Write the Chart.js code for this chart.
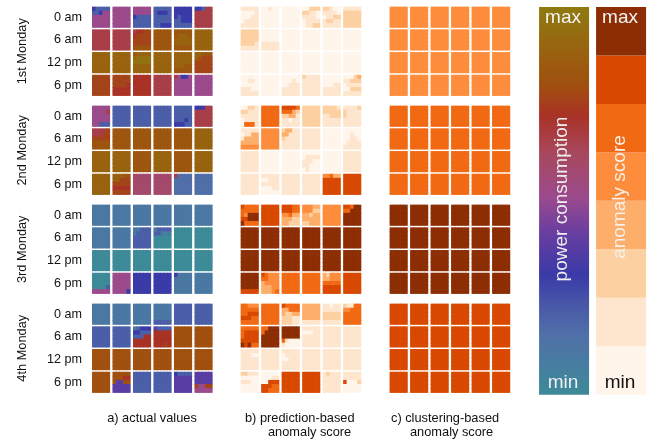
<!DOCTYPE html>
<html>
<head>
<meta charset="utf-8">
<style>
  html, body { margin: 0; padding: 0; background: #fff; }
  #wrap { width: 657px; height: 441px; position: relative; }
  canvas { filter: blur(0.45px); }
</style>
<script src="https://cdn.jsdelivr.net/npm/chart.js@4/dist/chart.umd.min.js"></script>
</head>
<body>
<div id="wrap"><canvas id="chart"></canvas></div>
<script>
// labels
const rowLabels  = ['0 am', '6 am', '12 pm', '6 pm'];
const weekLabels = ['1st Monday', '2nd Monday', '3rd Monday', '4th Monday'];

// a) actual values: one string per cell, a single letter when the cell is flat,
// otherwise five rows of five sub-samples. Letters are read through actualLevels.
const actualLevels = { a: 0, b: .11, m: .16, c: .21, d: .31, e: .38, f: .51, r: .59, g: .66, h: .72, i: .77, o: .8, j: .83, k: .89, l: .96 };
const actualWeek1 = [
  'dcccc/ccdff/fffff/fffff/fffff', 'f', 'fffff/fffff/dcccc/ccccc/ccccc', 'ccccc/cdddc/ccccc/ccccc/ccddd', 'ddddd/ddddd/dcddd/ccddd/ccccc', 'ddcgg/ggggg/ggggg/ggggg/ggggg',
  'g', 'g', 'ghhii/hiiii/iiiii/iiiii/jjjjj', 'j', 'jjjjj/jkkkj/kkkkk/kkkkk/jjjjj', 'k',
  'k', 'k', 'jkkkk/kllll/lllll/kkkkk/kkkkk', 'k', 'kkkkk/kkkkk/kkkkk/kkkjj/jjjjj', 'kkjjj/kjiii/iiiii/iiiii/iiiii',
  'i', 'iiiii/iiiii/iiiih/hhhhh/hhhhh', 'h', 'g', 'gfddf/fffff/fffff/fffff/fffff', 'f'
];
const actualWeek2 = [
  'fffff/ffffg/fffff/fffff/ffccc', 'c', 'c', 'c', 'ccccc/ccccc/ccccc/cccdc/dddcc', 'dddgg/ggggg/ggggg/ggggg/ggggg',
  'ggggi/gggii/iiiii/jjjjj/jjjjj', 'j', 'j', 'j', 'j', 'k',
  'k', 'k', 'j', 'k', 'j', 'k',
  'k', 'kkkjj/kkiii/iiiii/hhhhh/iiiii', 'r', 'r', 'gmmmm/mmmmm/mmmmm/mmmmm/mmmmm', 'm'
];
const actualWeek3 = [
  'b', 'b', 'b', 'b', 'b', 'b',
  'b', 'b', 'bbccc/bcccc/ccccc/ccccc/ccccc', 'bcccc/ccbab/aaaaa/aaaaa/aaaaa', 'a', 'a',
  'a', 'a', 'a', 'a', 'a', 'a',
  'aaaaa/aaaaa/aaaaa/aaaac/fffff', 'fffff/fffff/fffff/fffff/ffffd', 'd', 'd', 'dbbbb/bbbbb/bbbbb/bbbbb/bbbbb', 'b'
];
const actualWeek4 = [
  'b', 'b', 'b', 'bbbbb/bbbbb/bbbbb/bbbbb/ccccc', 'c', 'c',
  'c', 'c', 'bcddd/ddccc/ccchh/hhhhh/hhhhh', 'ecccc/hhhhh/hhhhh/hhhhh/hhhih', 'o', 'o',
  'o', 'o', 'o', 'o', 'o', 'o',
  'o', 'ooooo/ooohh/oeeoo/eeeee/eeeee', 'c', 'c', 'dcccc/eeeee/eeeee/eeeee/eeeee', 'eeeee/eeeee/eeeee/iffii/fffff'
];

// b) prediction-based anomaly score, digits are classes of the score legend
const predWeek1 = [
  '11111/00001/00011/01111/11111', '00100/00000/00000/00000/00000', '0', '00222/22110/11110/01111/01122', '22100/11110/01122/12211/11111', '11111/22222/22222/22222/22222',
  '22222/22222/22222/22221/11111', '00000/00000/00000/11111/11111', '0', '0', '0', '0',
  '0', '0', '0', '0', '0', '0',
  '00000/00110/00000/11100/11111', '0', '00000/00010/00111/11111/11111', '21111/11111/11111/11111/11111', '00000/00000/00011/11111/11111', '00023/11222/01111/00222/11111'
];
const predWeek2 = [
  '00221/22111/11111/01111/05551', '5', '66665/55532/22331/11011/11111', '2', '22221/22222/11222/11111/11111', '11112/21111/21111/11111/11111',
  '11111/01133/13333/33333/44444', '4', '23311/33111/21111/11111/11111', '1', '0', '00000/00100/00110/01111/11111',
  '1', '0', '0', '00000/01111/11100/11000/01000', '0', '1',
  '1', '11111/00111/11111/00011/00000', '1', '1', '44533/66666/66666/66666/66666', '6'
];
const predWeek3 = [
  '65555/55555/54777/66777/75555', '6', '66655/66655/44533/33322/33222', '44433/44422/33233/33333/22333', '4', '66577/55777/77777/77777/77777',
  '7', '7', '7', '7', '7', '7',
  '7', '7', '7', '7', '7', '7',
  '77777/77777/77777/77777/66666', '65444/55444/34444/33344/33345', '5', '5', '32444/33444/55555/66666/66666', '6'
];
const predWeek4 = [
  '55444/55555/55666/66655/55555', '5', '65555/33555/32233/22211/22211', '33333/33333/33333/33333/11111', '11011/11111/22222/22222/11111', '21155/44555/55555/55555/55555',
  '55555/56666/56666/66666/76755', '55777/57777/77777/77777/77777', '77777/77777/77777/51000/10000', '11111/00011/11111/11111/11111', '1', '1',
  '11111/11100/11111/11111/11111', '1', '11111/01111/00111/11111/11111', '1', '1', '1',
  '22111/00000/11100/00000/00000', '00000/00011/00666/66655/66555', '6', '6', '12111/11111/11111/11111/11111', '11111/11111/60002/00000/00000'
];

// c) clustering-based anomaly score, the same class for every cell of a week
const clusterWeeks = [4, 5, 7, 6];

// legends
const scoreColors = ['#fff5eb', '#fee6ce', '#fdd0a2', '#fdae6b', '#fd8d3c', '#f16913', '#d94801', '#8c2d04'];
const powerStops  = [0, .155, .225, .31, .42, .51, .62, .72, .8, 1];
const powerColors = ['#3d8a98', '#5070a8', '#4a5aa8', '#3a3aa8', '#6a3ea0', '#9b4a8c', '#a8485f', '#a93226', '#a0500f', '#8f7a10'];

// grid layout in scale units
const weekStep = 4.361, cellH = 0.903, cellW = 0.853, subN = 5;
const panelOffset = [0, 7.254, 14.52];
const legendBottom = 17.08;

function hex(c) { return [1, 3, 5].map(i => parseInt(c.substr(i, 2), 16)); }

function powerColor(v) {
  let i = 0;
  while (i < powerStops.length - 2 && v > powerStops[i + 1]) i++;
  const t = (v - powerStops[i]) / (powerStops[i + 1] - powerStops[i]);
  const a = hex(powerColors[i]), b = hex(powerColors[i + 1]);
  return 'rgb(' + a.map((n, k) => Math.round(n + (b[k] - n) * t)).join(',') + ')';
}

function rowTop(week, row) { return week * weekStep + row; }

function buildCells(weeks, panel, toColor) {
  const out = [];
  weeks.forEach((cells, w) => {
    cells.forEach((cell, n) => {
      const row = Math.floor(n / 6), col = n % 6;
      const lines = cell.length === 1 ? Array(subN).fill(cell.repeat(subN)) : cell.split('/');
      lines.forEach((line, r) => {
        [...line].forEach((ch, c) => {
          const top = rowTop(w, row) + r * cellH / subN;
          out.push({
            x: panelOffset[panel] + col + (c + 0.5) * cellW / subN,
            y: [top, top + cellH / subN],
            color: toColor(ch)
          });
        });
      });
    });
  });
  return out;
}

const actualData  = buildCells([actualWeek1, actualWeek2, actualWeek3, actualWeek4], 0, ch => powerColor(actualLevels[ch]));
const predData    = buildCells([predWeek1, predWeek2, predWeek3, predWeek4], 1, ch => scoreColors[+ch]);
const clusterData = buildCells(clusterWeeks.map(s => Array(24).fill(String(s))), 2, ch => scoreColors[+ch]);

const bandH = legendBottom / scoreColors.length;
const scoreLegend = scoreColors.map((c, i) => ({
  x: 1,
  y: [legendBottom - (i + 1) * bandH, legendBottom - i * bandH],
  color: c
}));

const cellColor = ctx => ctx.raw ? ctx.raw.color : '#fff';
const cellSet = data => ({
  data, backgroundColor: cellColor, borderWidth: 0,
  barPercentage: 1, categoryPercentage: 1, grouped: false
});

// captions and legend words, placed with the scales so they follow the grid
const textPlugin = {
  id: 'chartText',
  afterDraw(chart) {
    const c = chart.ctx, y = chart.scales.y;
    const put = (s, px, py, size, color, rot, align) => {
      c.save();
      c.translate(px, py);
      if (rot) c.rotate(rot);
      c.font = size + 'px "Liberation Sans", Arial, sans-serif';
      c.fillStyle = color;
      c.textAlign = align || 'center';
      c.textBaseline = 'middle';
      c.fillText(s, 0, 0);
      c.restore();
    };
    const up = -Math.PI / 2;
    weekLabels.forEach((s, w) => {
      put(s, 22, y.getPixelForValue(rowTop(w, 0) + (3 + cellH) / 2), 12.8, '#111', up);
    });
    put('a) actual values', 152, 418, 12.8, '#111');
    put('b) prediction-based', 245, 418, 12.8, '#111', 0, 'left');
    put('anomaly score', 268, 432, 12.8, '#111', 0, 'left');
    put('c) clustering-based', 391, 418, 12.8, '#111', 0, 'left');
    put('anomaly score', 410, 432, 12.8, '#111', 0, 'left');
    put('max', 563, 18, 19, '#f4f4f4');
    put('max', 620, 18, 19, '#f4f4f4');
    put('min', 563, 383, 19, '#eef2f4');
    put('min', 620, 383, 19, '#111');
    put('power consumption', 562, 199, 19, '#eee', up);
    put('anomaly score', 620, 197, 19, '#f6f0e8', up);
  }
};

new Chart(document.getElementById('chart'), {
  type: 'bar',
  data: {
    datasets: [
      cellSet(actualData),
      cellSet(predData),
      cellSet(clusterData),
      {
        xAxisID: 'xLegend',
        data: [{ x: 0, y: [0, legendBottom] }],
        backgroundColor: ctx => {
          // the scale has no pixels yet on the first options pass
          const sy = ctx.chart.scales.y;
          const y0 = sy.getPixelForValue(legendBottom), y1 = sy.getPixelForValue(0);
          if (!isFinite(y0) || !isFinite(y1)) return powerColors[0];
          const g = ctx.chart.ctx.createLinearGradient(0, y0, 0, y1);
          powerStops.forEach((s, i) => g.addColorStop(s, powerColors[i]));
          return g;
        },
        borderWidth: 0, barPercentage: 0.877, categoryPercentage: 1, grouped: false
      },
      {
        xAxisID: 'xLegend',
        data: scoreLegend,
        backgroundColor: cellColor,
        borderWidth: 0, barPercentage: 0.877, categoryPercentage: 1, grouped: false
      }
    ]
  },
  options: {
    responsive: true,
    maintainAspectRatio: false,
    animation: false,
    events: [],
    layout: { padding: 0 },
    plugins: { legend: { display: false }, tooltip: { enabled: false } },
    scales: {
      x: { type: 'linear', display: false, offset: false, min: -0.21, max: 27.55 },
      xLegend: { type: 'linear', display: false, offset: false, min: -8.35, max: 1.63 },
      y: {
        type: 'linear', reverse: true, min: -0.308, max: 19.12,
        afterFit: s => { s.width = 88; s.paddingTop = 0; s.paddingBottom = 0; },
        afterBuildTicks: s => {
          const t = [];
          for (let w = 0; w < 4; w++) {
            for (let r = 0; r < 4; r++) t.push({ value: rowTop(w, r) + cellH / 2 });
          }
          s.ticks = t;
        },
        grid: { display: false, drawTicks: false },
        border: { display: false },
        ticks: {
          autoSkip: false, padding: 6, color: '#111',
          font: { family: '"Liberation Sans", Arial, sans-serif', size: 12.6 },
          callback: (v, i) => rowLabels[i % 4]
        }
      }
    }
  },
  plugins: [textPlugin]
});
</script>
</body>
</html>
